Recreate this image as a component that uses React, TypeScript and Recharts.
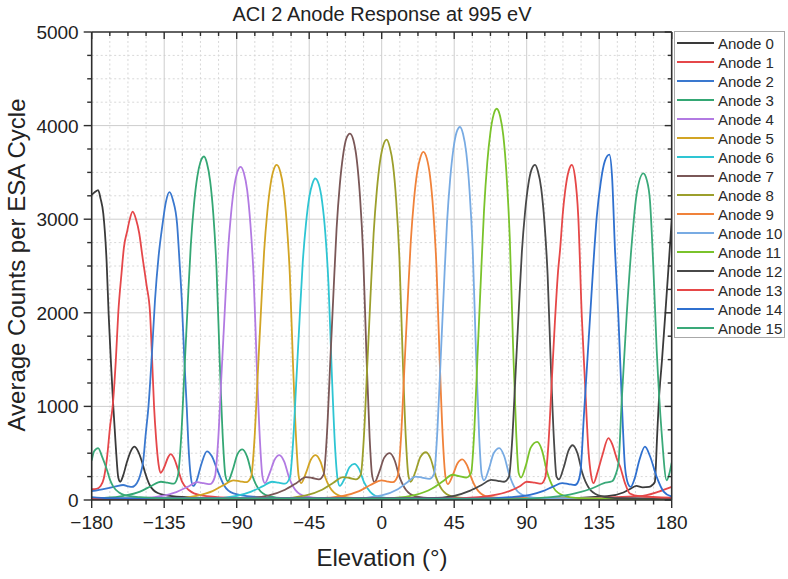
import React from 'react';
import { LineChart, Line, XAxis, YAxis, CartesianGrid, Legend } from 'recharts';

type P = [number, number][];

const anode0: P = [[-180, 3260], [-178, 3290], [-176, 3310], [-174.5, 3220], [-172.8, 3060], [-170.7, 2530], [-169.5, 1990], [-168, 1450], [-166.6, 1000], [-165, 560], [-163.5, 240], [-162.3, 195], [-160.5, 260], [-158.3, 395], [-155.5, 530], [-153.5, 570], [-151.5, 530], [-149, 420], [-147, 300], [-144, 160], [-139, 75], [-130, 40], [-115, 25], [-80, 15], [0, 10], [100, 12], [140, 40], [150, 80], [155, 125], [158, 150], [162, 135], [166, 140], [168, 160], [169.5, 190], [171, 700], [172, 1050], [174, 1500], [176, 1980], [178, 2480], [180, 2990]];
const anode1: P = [[-180, 115], [-177, 120], [-174.5, 150], [-172.5, 230], [-170.5, 450], [-168.5, 800], [-167, 1000], [-165, 1500], [-163.5, 2000], [-161.5, 2420], [-160, 2700], [-158, 2870], [-156.5, 2990], [-154.6, 3080], [-152.5, 3000], [-150.5, 2850], [-148.5, 2600], [-146, 2300], [-143.8, 2000], [-142.5, 1500], [-141.3, 1000], [-140, 650], [-138.5, 380], [-137.3, 290], [-135, 350], [-132.5, 460], [-131, 490], [-129, 450], [-126.5, 330], [-124, 200], [-120, 110], [-112, 50], [-95, 25], [-60, 12], [100, 10], [160, 40], [172, 90], [180, 140]];
const anode2: P = [[-180, 95], [-172, 120], [-165, 145], [-160.5, 160], [-157, 145], [-155, 140], [-152, 180], [-150, 260], [-148, 420], [-146.5, 700], [-144.8, 990], [-142.5, 1600], [-140.7, 2140], [-138.5, 2600], [-136, 2950], [-134, 3180], [-131.8, 3290], [-129.5, 3200], [-127, 2950], [-125.5, 2550], [-124.1, 2140], [-122.5, 1500], [-121, 990], [-120, 600], [-118.5, 250], [-117, 150], [-115, 200], [-112, 380], [-108.5, 520], [-105.5, 470], [-102, 320], [-98, 160], [-92, 70], [-80, 35], [-50, 15], [100, 10], [180, 15]];
const anode3: P = [[-180, 15], [-175, 20], [-160, 45], [-150, 90], [-143, 150], [-137, 195], [-133, 185], [-129, 175], [-126.5, 260], [-124.5, 660], [-122.5, 1360], [-120.5, 2060], [-118.5, 2720], [-116.5, 3160], [-114.5, 3450], [-112.5, 3610], [-110.3, 3670], [-108.5, 3600], [-106.5, 3410], [-104.5, 3050], [-102.5, 2460], [-100.5, 1470], [-98.5, 620], [-97, 260], [-95.5, 200], [-92.5, 320], [-89.5, 490], [-86.5, 540], [-83.5, 460], [-80.5, 270], [-76.5, 120], [-70.5, 45], [-60, 20], [0, 12], [180, 10]];
const anode4: P = [[-180, 10], [-152.5, 15], [-137.5, 40], [-127.5, 85], [-120.5, 140], [-114.5, 190], [-110.5, 180], [-106.5, 170], [-103.5, 250], [-101.5, 640], [-99.5, 1320], [-97.5, 1990], [-95.5, 2630], [-93.5, 3060], [-91.5, 3350], [-89.5, 3510], [-87.5, 3560], [-85.5, 3490], [-83.5, 3310], [-81.5, 2950], [-79.5, 2390], [-77.5, 1420], [-75.5, 610], [-74, 250], [-72.5, 180], [-69.5, 290], [-66.5, 430], [-63.5, 480], [-60.5, 410], [-57.5, 240], [-53.5, 105], [-47.5, 40], [-37.5, 20], [180, 10]];
const anode5: P = [[-180, 10], [-130, 15], [-115, 45], [-105, 95], [-98, 160], [-92, 210], [-88, 200], [-84, 190], [-81, 250], [-79, 640], [-77, 1320], [-75, 2000], [-73, 2650], [-71, 3080], [-69, 3370], [-67, 3530], [-65.2, 3580], [-63, 3510], [-61, 3330], [-59, 2970], [-57, 2400], [-55, 1430], [-53, 610], [-51.5, 250], [-50, 180], [-47, 290], [-44, 430], [-41, 480], [-38, 410], [-35, 240], [-31, 105], [-25, 40], [-15, 20], [180, 10]];
const anode6: P = [[-180, 10], [-106, 15], [-91, 40], [-81, 90], [-74, 145], [-68, 195], [-64, 185], [-60, 175], [-57, 240], [-55, 620], [-53, 1270], [-51, 1920], [-49, 2540], [-47, 2950], [-45, 3230], [-43, 3380], [-41.3, 3435], [-39, 3370], [-37, 3190], [-35, 2850], [-33, 2300], [-31, 1370], [-29, 580], [-27.5, 240], [-26, 150], [-23, 230], [-20, 350], [-17, 385], [-14, 330], [-11, 190], [-7, 85], [-1, 30], [9, 15], [180, 10]];
const anode7: P = [[-180, 10], [-85, 20], [-70, 50], [-60, 110], [-53, 180], [-47, 245], [-43, 235], [-39, 220], [-36, 275], [-34, 700], [-32, 1450], [-30, 2190], [-28, 2900], [-26, 3370], [-24, 3680], [-22, 3860], [-19.7, 3915], [-17.5, 3840], [-15.5, 3640], [-13.5, 3250], [-11.5, 2620], [-9.5, 1570], [-7.5, 670], [-6, 270], [-4.5, 190], [-1.5, 300], [1.5, 450], [5, 500], [8, 425], [11, 250], [15, 110], [21, 40], [31, 20], [180, 10]];
const anode8: P = [[-180, 10], [-62, 20], [-47, 50], [-37, 110], [-30, 185], [-24, 245], [-20, 235], [-16, 220], [-13, 270], [-11, 690], [-9, 1420], [-7, 2160], [-5, 2850], [-3, 3310], [-1, 3620], [1, 3790], [3.1, 3850], [5, 3770], [7, 3580], [9, 3200], [11, 2580], [13, 1540], [15, 650], [16.5, 270], [18, 195], [21, 305], [24, 460], [27.5, 510], [30.5, 435], [33.5, 255], [37.5, 110], [43.5, 40], [53, 20], [180, 10]];
const anode9: P = [[-180, 10], [-40, 20], [-24, 45], [-14, 95], [-7, 160], [0, 210], [3, 200], [7, 190], [10, 260], [12, 670], [14, 1380], [16, 2080], [18, 2750], [20, 3200], [22, 3500], [24, 3660], [25.8, 3720], [28, 3650], [30, 3460], [32, 3090], [34, 2490], [36, 1490], [38, 630], [39.5, 260], [41, 170], [44, 260], [47, 390], [50, 435], [53, 370], [56, 220], [60, 95], [66, 35], [76, 20], [180, 10]];
const anode10: P = [[-180, 10], [-16, 20], [0, 50], [10, 115], [16, 190], [21, 250], [25, 240], [29.5, 225], [32.5, 280], [34.5, 720], [36.5, 1470], [38.5, 2230], [40.5, 2950], [42.5, 3430], [44.5, 3750], [46.5, 3930], [48.6, 3985], [50.5, 3910], [52.5, 3710], [54.5, 3310], [56.5, 2670], [58.5, 1590], [60.5, 680], [62, 280], [63.5, 210], [66.5, 330], [69.5, 500], [73, 555], [76, 470], [79, 280], [83, 120], [89, 45], [99, 20], [180, 10]];
const anode11: P = [[-180, 10], [6, 20], [21, 55], [31, 120], [38, 200], [44, 270], [48, 255], [52.5, 240], [55.5, 290], [57.5, 750], [59.5, 1550], [61.5, 2340], [63.5, 3090], [65.5, 3600], [67.5, 3930], [69.5, 4120], [71.4, 4180], [73.5, 4100], [75.5, 3890], [77.5, 3470], [79.5, 2800], [81.5, 1670], [83.5, 710], [85, 290], [86.5, 240], [89.5, 370], [92.5, 560], [96.5, 620], [99.5, 530], [102.5, 310], [106.5, 135], [112.5, 50], [122, 20], [180, 10]];
const anode12: P = [[-180, 10], [30, 20], [45, 45], [55, 100], [62, 160], [68, 215], [72, 205], [76, 195], [79, 250], [81, 640], [83, 1320], [85, 2000], [87, 2650], [89, 3080], [91, 3370], [93, 3530], [95.2, 3580], [97, 3510], [99, 3330], [101, 2970], [103, 2400], [105, 1430], [107, 610], [108.5, 250], [110, 220], [113, 350], [116, 530], [118.5, 585], [121.5, 500], [124.5, 290], [128.5, 130], [134.5, 50], [145, 20], [180, 15]];
const anode13: P = [[-180, 15], [40, 15], [60, 30], [72, 60], [80, 100], [86, 150], [90, 195], [95, 185], [99, 175], [101.5, 240], [103.5, 600], [105.5, 1250], [107.5, 1900], [109.5, 2450], [110.7, 2670], [112.5, 3080], [114.5, 3380], [116.5, 3540], [118, 3580], [120, 3450], [122, 3030], [124.2, 1960], [126.2, 1250], [128.3, 535], [130, 260], [131.4, 180], [134, 300], [137, 480], [140.7, 660], [143, 600], [146, 440], [148, 355], [151, 180], [154, 70], [160, 40], [180, 25]];
const anode14: P = [[-180, 30], [-170, 20], [60, 15], [80, 30], [92, 55], [100, 95], [106, 140], [112, 180], [116, 170], [120, 160], [122, 200], [123.5, 320], [125.5, 900], [127.5, 1450], [129.5, 2000], [131.5, 2550], [133.5, 3030], [136, 3400], [138.5, 3620], [141.3, 3690], [143, 3450], [144.8, 2670], [146.9, 1960], [149, 1070], [151, 355], [153, 170], [154.5, 140], [157, 230], [160, 430], [163.4, 570], [166.5, 470], [170.6, 250], [175, 90], [180, 35]];
const anode15: P = [[-180, 420], [-178.5, 520], [-176, 555], [-173.5, 460], [-170.5, 320], [-168.5, 210], [-166.5, 140], [-163, 80], [-160, 55], [-150, 30], [-130, 15], [80, 10], [105, 30], [120, 70], [130, 120], [138, 180], [143, 200], [145, 260], [147, 400], [149, 1070], [152, 1960], [155.2, 2740], [158.3, 3275], [162.4, 3490], [164.5, 3420], [166.5, 3200], [168.6, 2490], [170.7, 1600], [173.8, 710], [176.9, 210], [178.5, 280], [180, 400]];

const anodeData: P[] = [anode0, anode1, anode2, anode3, anode4, anode5, anode6, anode7, anode8, anode9, anode10, anode11, anode12, anode13, anode14, anode15];
const anodeNames = ['Anode 0', 'Anode 1', 'Anode 2', 'Anode 3', 'Anode 4', 'Anode 5', 'Anode 6', 'Anode 7', 'Anode 8', 'Anode 9', 'Anode 10', 'Anode 11', 'Anode 12', 'Anode 13', 'Anode 14', 'Anode 15'];
const anodeColors = ['#3a3a3a', '#e5474a', '#3a78cf', '#34a774', '#b27ae2', '#d2a424', '#2ec5d3', '#7a5757', '#9c9f2c', '#f0823a', '#78abe3', '#7ac32b', '#484848', '#e64848', '#2f70cf', '#3aa979'];

const xTicks = [-180, -168.75, -157.5, -146.25, -135, -123.75, -112.5, -101.25, -90, -78.75, -67.5, -56.25, -45, -33.75, -22.5, -11.25, 0, 11.25, 22.5, 33.75, 45, 56.25, 67.5, 78.75, 90, 101.25, 112.5, 123.75, 135, 146.25, 157.5, 168.75, 180];
const yTicks = [0, 250, 500, 750, 1000, 1250, 1500, 1750, 2000, 2250, 2500, 2750, 3000, 3250, 3500, 3750, 4000, 4250, 4500, 4750, 5000];
const xMajorGrid = [-135, -90, -45, 0, 45, 90, 135];
const xMinorGrid = xTicks.filter((v) => Math.abs(v % 45) > 1e-6);
const yMajorGrid = [1000, 2000, 3000, 4000];
const yMinorGrid = yTicks.filter((v) => v % 1000 !== 0);

const FONT = '"Liberation Sans", Arial, Helvetica, sans-serif';
const AXIS = '#2e2e2e';

const fmtX = (v: number) => (v < 0 ? `\u2212${-v}` : `${v}`);
const isMajorX = (v: number) => Math.abs(v % 45) < 1e-6;
const isMajorY = (v: number) => v % 1000 === 0;

const BottomTick = (props: any) => {
  const { x, y, payload } = props;
  const v = payload.value;
  const major = isMajorX(v);
  return (
    <g>
      <line x1={x} x2={x} y1={y} y2={y + (major ? 8 : 4.5)} stroke={AXIS} strokeWidth={1.4} />
      {major && (
        <text x={x} y={y + 29} textAnchor="middle" fontSize={19} fill="#222" fontFamily={FONT}>
          {fmtX(v)}
        </text>
      )}
    </g>
  );
};

const TopTick = (props: any) => {
  const { x, y, payload } = props;
  const major = isMajorX(payload.value);
  return <line x1={x} x2={x} y1={y} y2={y + (major ? 7 : 4)} stroke={AXIS} strokeWidth={1.4} />;
};

const LeftTick = (props: any) => {
  const { x, y, payload } = props;
  const v = payload.value;
  const major = isMajorY(v);
  return (
    <g>
      <line x1={x} x2={x - (major ? 8 : 4.5)} y1={y} y2={y} stroke={AXIS} strokeWidth={1.4} />
      {major && (
        <text x={x - 13} y={y + 7} textAnchor="end" fontSize={19} fill="#222" fontFamily={FONT}>
          {v}
        </text>
      )}
    </g>
  );
};

const RightTick = (props: any) => {
  const { x, y, payload } = props;
  const major = isMajorY(payload.value);
  return <line x1={x} x2={x - (major ? 7 : 4)} y1={y} y2={y} stroke={AXIS} strokeWidth={1.4} />;
};

const LegendBox = () => (
  <div
    style={{
      width: 111,
      height: 307,
      border: '1px solid #a8a8a8',
      background: '#fff',
      boxSizing: 'border-box',
      paddingTop: 2,
    }}
  >
    {anodeNames.map((name, i) => (
      <div key={name} style={{ height: 18.97, display: 'flex', alignItems: 'center', whiteSpace: 'nowrap' }}>
        <svg width={40} height={6} style={{ marginLeft: 2, flex: 'none' }}>
          <line x1={0} x2={37} y1={3} y2={3} stroke={anodeColors[i]} strokeWidth={2.2} />
        </svg>
        <span style={{ fontFamily: FONT, fontSize: 15, color: '#2a2a2a', marginLeft: 1, lineHeight: '15px' }}>{name}</span>
      </div>
    ))}
  </div>
);

export default function App() {
  return (
    <div style={{ position: 'absolute', left: 0, top: 0, width: 788, height: 579, background: '#fff' }}>
      <LineChart
        width={788}
        height={579}
        margin={{ top: 31, right: 115.3, bottom: 39, left: 31.7 }}
      >
        <CartesianGrid
          stroke="#d8d8d8"
          strokeDasharray="2 2.5"
          horizontalValues={yMinorGrid}
          verticalValues={xMinorGrid}
          fill="none"
        />
        <CartesianGrid stroke="#cdcdcd" horizontalValues={yMajorGrid} verticalValues={xMajorGrid} fill="none" />
        <XAxis
          type="number"
          dataKey="x"
          domain={[-180, 180]}
          allowDataOverflow
          ticks={xTicks}
          interval={0}
          height={40}
          tickSize={0}
          tickMargin={0}
          tickLine={false}
          axisLine={{ stroke: AXIS, strokeWidth: 1.6 }}
          tick={BottomTick}
        />
        <XAxis
          xAxisId="top"
          orientation="top"
          type="number"
          dataKey="x"
          domain={[-180, 180]}
          allowDataOverflow
          ticks={xTicks}
          interval={0}
          height={1}
          tickSize={0}
          tickMargin={0}
          tickLine={false}
          axisLine={{ stroke: AXIS, strokeWidth: 1.6 }}
          tick={TopTick}
        />
        <YAxis
          type="number"
          domain={[0, 5000]}
          allowDataOverflow
          ticks={yTicks}
          interval={0}
          width={60}
          tickSize={0}
          tickMargin={0}
          tickLine={false}
          axisLine={{ stroke: AXIS, strokeWidth: 1.6 }}
          tick={LeftTick}
        />
        <YAxis
          yAxisId="right"
          orientation="right"
          type="number"
          domain={[0, 5000]}
          allowDataOverflow
          ticks={yTicks}
          interval={0}
          width={1}
          tickSize={0}
          tickMargin={0}
          tickLine={false}
          axisLine={{ stroke: AXIS, strokeWidth: 1.6 }}
          tick={RightTick}
        />
        {anodeData.map((pts, i) => (
          <Line
            key={anodeNames[i]}
            name={anodeNames[i]}
            data={pts.map(([x, y]) => ({ x, y }))}
            dataKey="y"
            type="monotone"
            stroke={anodeColors[i]}
            strokeWidth={1.8}
            dot={false}
            activeDot={false}
            isAnimationActive={false}
          />
        ))}
        <Legend
          layout="vertical"
          align="center"
          verticalAlign="middle"
          width={111}
          height={307}
          wrapperStyle={{ position: 'absolute', left: 674, top: 31, width: 111, height: 307 }}
          content={() => <LegendBox />}
        />
      </LineChart>
      <svg
        width={788}
        height={579}
        style={{ position: 'absolute', left: 0, top: 0, pointerEvents: 'none' }}
      >
        <text x={382} y={21} textAnchor="middle" fontSize={20} fill="#222" fontFamily={FONT}>
          ACI 2 Anode Response at 995 eV
        </text>
        <text x={382} y={566} textAnchor="middle" fontSize={24} fill="#222" fontFamily={FONT}>
          Elevation (°)
        </text>
        <text
          x={0}
          y={0}
          transform="translate(25 265) rotate(-90)"
          textAnchor="middle"
          fontSize={24}
          fill="#222"
          fontFamily={FONT}
        >
          Average Counts per ESA Cycle
        </text>
      </svg>
    </div>
  );
}
